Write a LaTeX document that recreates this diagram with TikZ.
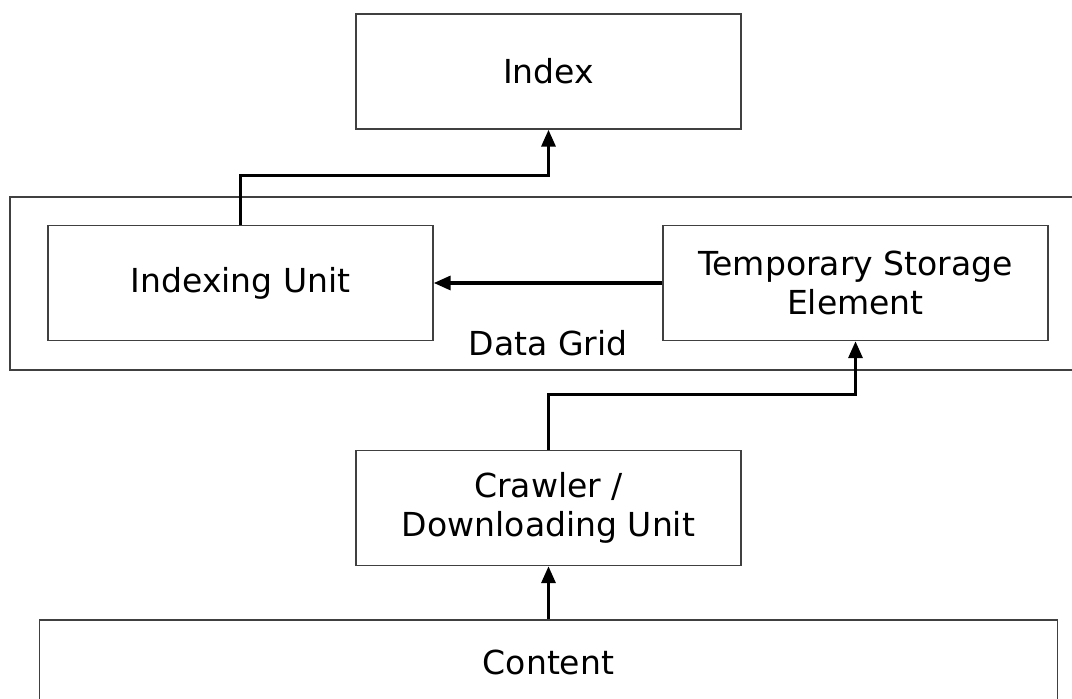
\documentclass[tikz,border=0pt]{standalone}
\usepackage{fontspec}
\setmainfont{DejaVu Sans}
\usetikzlibrary{arrows.meta}

\definecolor{edgegray}{HTML}{404040}

\begin{document}
\begin{tikzpicture}[
                    x=0.25mm, y=-0.25mm,
                    every node/.style={
                        font=\fontsize{23.5}{28}\selectfont,
                        align=center,
                        inner sep=0pt
                    },
                    block/.style={
                        draw=edgegray,
                        line width=1.1pt,
                        minimum width=96.25mm,
                        minimum height=28.75mm
                    },
                    link/.style={
                        draw,
                        line width=2.2pt,
                        -{Triangle[length=12pt,width=10pt]}
                    }
                ]
                    \useasboundingbox (0,0) rectangle (1072,699);

                    % Data grid frame (runs past the right edge)
                    \draw[edgegray, line width=1.1pt] (10,197) rectangle (1090,370);
                    \node (grid) at (548,343) {Data Grid};

                    \node[block] (idx) at (548.5,71.5) {Index};
                    \node[block] (iu) at (240.5,283) {Indexing Unit};
                    \node[block] (tse) at (855.5,283) {Temporary Storage\\Element};
                    \node[block] (cr) at (548.5,508) {Crawler /\\Downloading Unit};
                    \node[block, minimum width=254.5mm, minimum height=21mm] (ct) at (548.5,662) {Content};

                    % Edges
                    \draw[link] (iu.north) -- ++(0,-49) -| (idx.south);
                    \draw[link] (tse.west) -- (iu.east);
                    \draw[link] (cr.north) -- ++(0,-55) -| (tse.south);
                    \draw[link] (ct.north) -- (cr.south);
                \end{tikzpicture}
\end{document}
